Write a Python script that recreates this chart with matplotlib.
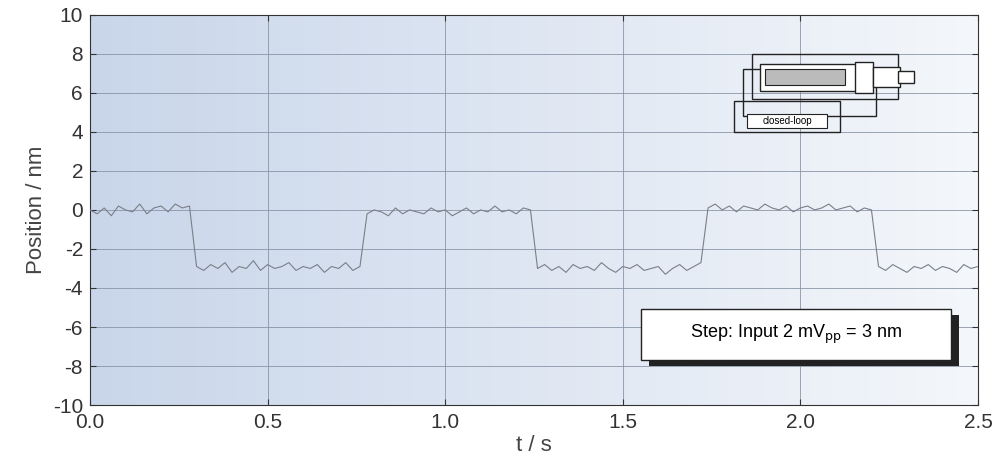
import numpy as np
import matplotlib
matplotlib.use("Agg")
import matplotlib.pyplot as plt
from matplotlib.patches import Rectangle
from matplotlib.colors import LinearSegmentedColormap

plt.rcParams['font.family'] = ['Liberation Sans', 'DejaVu Sans']

dt = 0.02
seg_hi1 = [0.0,-0.2,0.1,-0.3,0.2,0.0,-0.1,0.3,-0.2,0.1,0.2,-0.1,0.3,0.1,0.2]
seg_lo1 = [-2.9,-3.1,-2.8,-3.0,-2.7,-3.2,-2.9,-3.0,-2.6,-3.1,-2.8,-3.0,-2.9,-2.7,-3.1,-2.9,-3.0,-2.8,-3.2,-2.9,-3.0,-2.7,-3.1,-2.9]
seg_hi2 = [-0.2,0.0,-0.1,-0.3,0.1,-0.2,0.0,-0.1,-0.2,0.1,-0.1,0.0,-0.3,-0.1,0.1,-0.2,0.0,-0.1,0.2,-0.1,0.0,-0.2,0.1,0.0]
seg_lo2 = [-3.0,-2.8,-3.1,-2.9,-3.2,-2.8,-3.0,-2.9,-3.1,-2.7,-3.0,-3.2,-2.9,-3.0,-2.8,-3.1,-3.0,-2.9,-3.3,-3.0,-2.8,-3.1,-2.9,-2.7]
seg_hi3 = [0.1,0.3,0.0,0.2,-0.1,0.2,0.1,0.0,0.3,0.1,0.0,0.2,-0.1,0.1,0.2,0.0,0.1,0.3,0.0,0.1,0.2,-0.1,0.1,0.0]
seg_lo3 = [-2.9,-3.1,-2.8,-3.0,-3.2,-2.9,-3.0,-2.8,-3.1,-2.9,-3.0,-3.2,-2.8,-3.0,-2.9]
position = seg_hi1 + seg_lo1 + seg_hi2 + seg_lo2 + seg_hi3 + seg_lo3
t = np.arange(len(position)) * dt

xticks = [0.0, 0.5, 1.0, 1.5, 2.0, 2.5]
yticks = list(range(-10, 11, 2))

fig = plt.figure(figsize=(10, 4.76), dpi=100)
ax = fig.add_axes([0.09, 0.149, 0.888, 0.82])
ax.set_xlim(0, 2.5)
ax.set_ylim(-10, 10)

grad = np.linspace(0, 1, 256)[None, :]
cmap = LinearSegmentedColormap.from_list('bg', ['#c9d6ea', '#f4f7fb'])
ax.imshow(grad, extent=[0, 2.5, -10, 10], aspect='auto', cmap=cmap, zorder=0)

ax.grid(True, color='#8a96a8', linewidth=0.6, zorder=1)
ax.plot(t, position, color='#7a7f88', linewidth=0.8, zorder=3)

ax.set_xticks(xticks)
ax.set_yticks(yticks)
ax.set_xticklabels([f"{v:.1f}" for v in xticks], fontsize=15)
ax.set_yticklabels([str(v) for v in yticks], fontsize=15)
ax.tick_params(direction='in', length=4, top=True, right=True, colors='#333333')
ax.tick_params(axis='x', pad=6)
ax.tick_params(axis='y', pad=5)
ax.set_xlabel("t / s", fontsize=16, color='#444444', labelpad=2)
ax.set_ylabel("Position / nm", fontsize=16, color='#444444')
for s in ax.spines.values():
    s.set_color('#333333')

tb = ax.transAxes
ax.add_patch(Rectangle((0.629, 0.10), 0.35, 0.13, transform=tb, facecolor='#222222', zorder=4))
ax.add_patch(Rectangle((0.62, 0.115), 0.35, 0.13, transform=tb, facecolor='white', edgecolor='#222222', lw=1, zorder=5))
ax.text(0.795, 0.18, "Step: Input 2 mV$_{\\mathrm{pp}}$ = 3 nm", transform=tb, ha='center', va='center', fontsize=13, zorder=6)

kw = dict(transform=tb, fill=False, edgecolor='#222222', lw=1, zorder=5)
ax.add_patch(Rectangle((0.725, 0.70), 0.12, 0.08, **kw))
ax.add_patch(Rectangle((0.735, 0.74), 0.15, 0.12, **kw))
ax.add_patch(Rectangle((0.745, 0.785), 0.165, 0.115, **kw))
ax.add_patch(Rectangle((0.755, 0.805), 0.12, 0.07, transform=tb, facecolor='white', edgecolor='#222222', lw=1, zorder=5))
ax.add_patch(Rectangle((0.76, 0.82), 0.09, 0.04, transform=tb, facecolor='#bbbbbb', edgecolor='#222222', lw=0.8, zorder=6))
ax.add_patch(Rectangle((0.862, 0.8), 0.02, 0.08, transform=tb, facecolor='white', edgecolor='#222222', lw=1, zorder=6))
ax.add_patch(Rectangle((0.882, 0.815), 0.03, 0.05, transform=tb, facecolor='white', edgecolor='#222222', lw=1, zorder=6))
ax.add_patch(Rectangle((0.91, 0.825), 0.018, 0.03, transform=tb, facecolor='white', edgecolor='#222222', lw=1, zorder=6))
ax.add_patch(Rectangle((0.74, 0.71), 0.09, 0.035, transform=tb, facecolor='white', edgecolor='#222222', lw=0.8, zorder=6))
ax.text(0.785, 0.727, "closed-loop", transform=tb, ha='center', va='center', fontsize=7, zorder=7)

fig.savefig("out.png", dpi=100)
